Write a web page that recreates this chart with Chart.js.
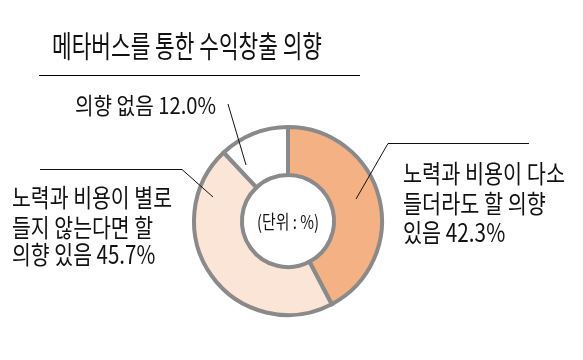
<!DOCTYPE html>
<html><head><meta charset="utf-8">
<script src="https://cdn.jsdelivr.net/npm/chart.js@4"></script>
<style>html,body{margin:0;padding:0;background:#fff}#wrap{width:583px;height:360px}</style>
</head><body><div id="wrap"><canvas id="c" width="583" height="360"></canvas></div>
<script>
const title = '메타버스를 통한 수익창출 의향';
const categories = ['노력과 비용이 다소 들더라도 할 의향 있음', '노력과 비용이 별로 들지 않는다면 할 의향 있음', '의향 없음'];
const values = [42.3, 45.7, 12.0];
const colors = ['#F4B183', '#FBE5D6', '#FFFFFF'];
const unitLabel = '(단위 : %)';
const labelLines = [
  ['노력과 비용이 다소', '들더라도 할 의향', '있음 42.3%'],
  ['노력과 비용이 별로', '들지 않는다면 할', '의향 있음 45.7%'],
  ['의향 없음 12.0%']
];

const FONT = '"Noto Sans CJK KR", "Noto Sans", sans-serif';

function drawScaled(ctx, lines, x, ys, size, targetW, align) {
  ctx.save();
  ctx.font = size + 'px ' + FONT;
  ctx.textBaseline = 'middle';
  ctx.fillStyle = '#111';
  let maxW = 0;
  lines.forEach((l) => { const w = ctx.measureText(l).width; if (w > maxW) maxW = w; });
  const sx = targetW / maxW;
  lines.forEach((l, i) => {
    ctx.save();
    const w = ctx.measureText(l).width * sx;
    const x0 = align === 'center' ? x - w / 2 : x;
    ctx.translate(x0, ys[i]);
    ctx.scale(sx, 1);
    ctx.textAlign = 'left';
    ctx.fillText(l, 0, 0);
    ctx.restore();
  });
  ctx.restore();
}

const annot = {
  id: 'annot',
  afterDraw(chart) {
    const ctx = chart.ctx;
    const meta = chart.getDatasetMeta(0);
    const cx = meta.data[0].x, cy = meta.data[0].y;
    drawScaled(ctx, [title], 52, [46], 30, 270, 'left');
    ctx.save();
    ctx.strokeStyle = '#000'; ctx.lineWidth = 1;
    ctx.beginPath(); ctx.moveTo(39, 75.5); ctx.lineTo(360, 75.5); ctx.stroke();
    ctx.strokeStyle = '#111';
    ctx.beginPath();
    ctx.moveTo(cx + 68, cy - 22); ctx.lineTo(388, 143.5); ctx.lineTo(529, 143.5);
    ctx.moveTo(cx - 75, cy - 24); ctx.lineTo(182, 169.5); ctx.lineTo(40, 169.5);
    ctx.moveTo(cx - 42, cy - 56); ctx.lineTo(228, 104);
    ctx.stroke();
    ctx.restore();
    drawScaled(ctx, labelLines[0], 403, [173, 203, 232], 25, 162, 'left');
    drawScaled(ctx, labelLines[1], 12, [197, 227, 254], 25, 160, 'left');
    drawScaled(ctx, labelLines[2], 75, [105], 23, 141, 'left');
    drawScaled(ctx, [unitLabel], cx, [cy + 1], 19, 62, 'center');
  }
};

new Chart(document.getElementById('c'), {
  type: 'doughnut',
  data: {
    labels: categories,
    datasets: [{
      data: values,
      backgroundColor: colors,
      borderColor: '#8A8A8A',
      borderWidth: 4,
      borderJoinStyle: 'miter'
    }]
  },
  options: {
    responsive: false,
    animation: false,
    cutout: '49%',
    layout: { padding: { left: 192, right: 199, top: 125, bottom: 43 } },
    plugins: { legend: { display: false }, tooltip: { enabled: false }, title: { display: false } }
  },
  plugins: [annot]
});
</script>
</body></html>
